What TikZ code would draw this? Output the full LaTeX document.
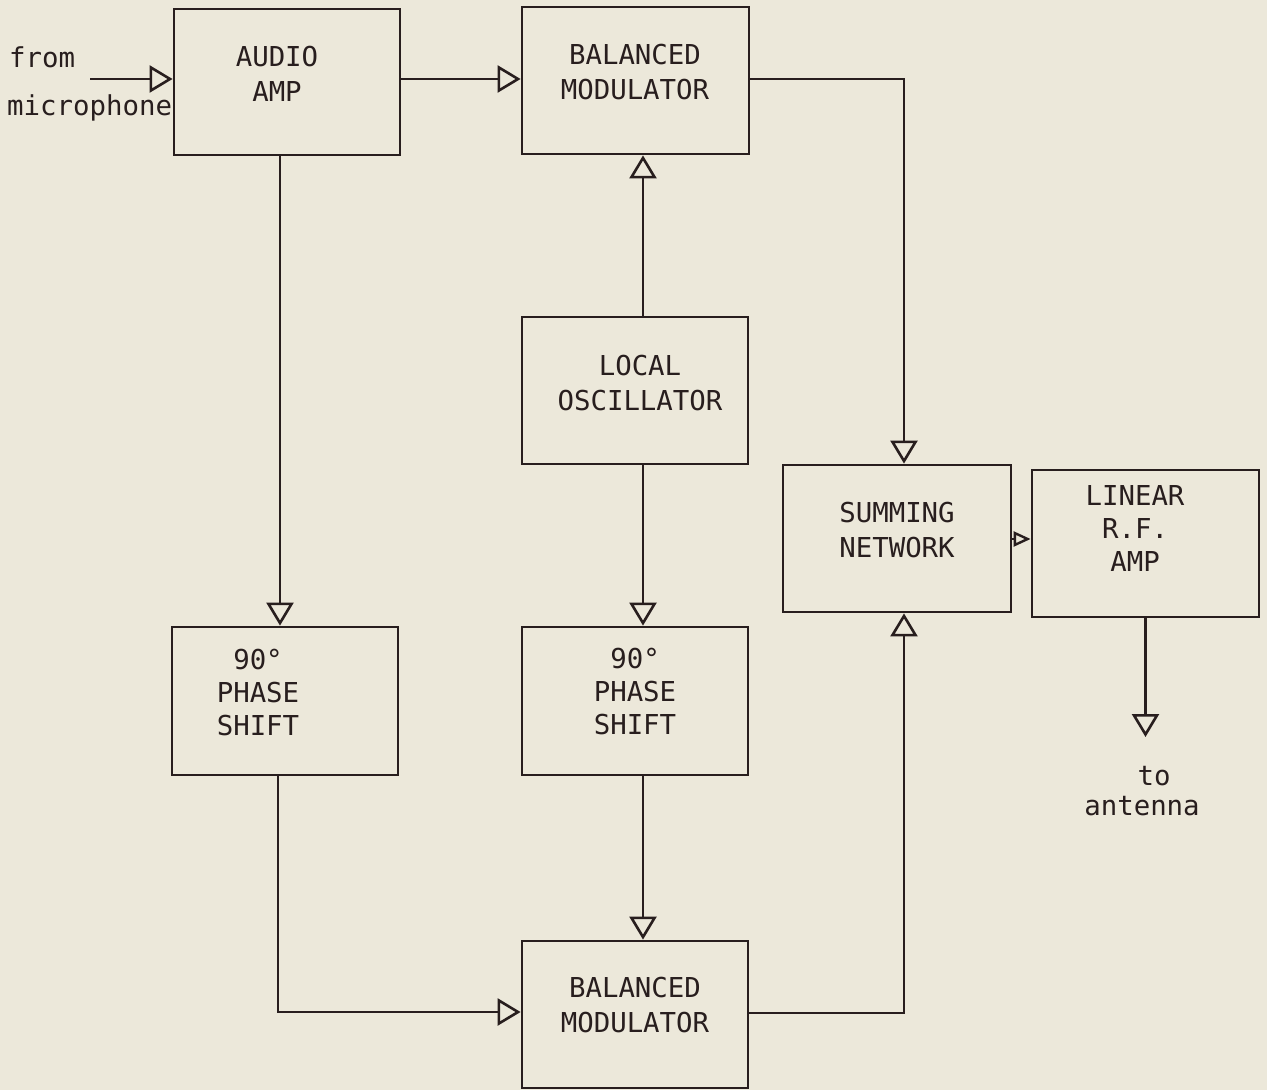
\documentclass[tikz,border=0pt]{standalone}
\usepackage{fontspec}
\setmainfont{DejaVu Sans Mono}
\usetikzlibrary{arrows.meta}
\definecolor{paper}{RGB}{236,232,218}
\definecolor{ink}{RGB}{40,30,30}
\begin{document}
\begin{tikzpicture}[x=1bp,y=-1bp,
  blk/.style={draw=ink, line width=2.8bp, rectangle, inner sep=0pt},
  lbl/.style={text=ink, align=center, inner sep=0pt, font=\fontsize{27.4bp}{35bp}\selectfont},
  lblt/.style={text=ink, align=center, inner sep=0pt, font=\fontsize{27.4bp}{33bp}\selectfont},
  arr/.style={draw=ink, line width=2.8bp, -{Triangle[open, length=23bp, width=27bp, line width=2.6bp]}},
  arrs/.style={draw=ink, line width=2.8bp, -{Triangle[open, length=17bp, width=15bp, line width=2.4bp]}},
  wire/.style={draw=ink, line width=2.8bp}]
\fill[paper] (0,0) rectangle (1267,1090);
% boxes
\node[blk, minimum width=226bp, minimum height=146bp] (aa)  at (287,82) {};
\node[blk, minimum width=227bp, minimum height=147bp] (bm1) at (635.5,80.5) {};
\node[blk, minimum width=226bp, minimum height=147bp] (osc) at (635,390.5) {};
\node[blk, minimum width=226bp, minimum height=148bp] (ps1) at (285,701) {};
\node[blk, minimum width=226bp, minimum height=148bp] (ps2) at (635,701) {};
\node[blk, minimum width=226bp, minimum height=147bp] (bm2) at (635,1014.5) {};
\node[blk, minimum width=228bp, minimum height=147bp] (sum) at (897,538.5) {};
\node[blk, minimum width=227bp, minimum height=147bp] (lin) at (1145.5,543.5) {};
% texts
\node[lbl]  (aat)  at (277,74)   {AUDIO\\AMP};
\node[lbl]  (bm1t) at (635,72)   {BALANCED\\MODULATOR};
\node[lbl]  (osct) at (640,383)  {LOCAL\\OSCILLATOR};
\node[lblt] (ps1t) at (258,693)  {90°\\PHASE\\SHIFT};
\node[lblt] (ps2t) at (635,692)  {90°\\PHASE\\SHIFT};
\node[lbl]  (bm2t) at (635,1005) {BALANCED\\MODULATOR};
\node[lbl]  (sumt) at (897,530)  {SUMMING\\NETWORK};
\node[lblt] (lint) at (1135,529) {LINEAR\\R.F.\\AMP};
\node[lbl, anchor=base west] (from) at (9,67)  {from};
\node[lbl, anchor=base west] (mic)  at (7,115) {microphone};
\node[lbl, anchor=base] (to)  at (1154,785) {to};
\node[lbl, anchor=base] (ant) at (1142,815) {antenna};
% free ends
\coordinate (micin) at (90,79);
\coordinate (antout) at (1146,737);
% connectors
\draw[arr] (micin) -- (micin -| aa.west);
\draw[arr] ([yshift=3bp]aa.east) -- ([yshift=3bp]aa.east -| bm1.west);
\draw[arr] ([yshift=1.5bp]bm1.east) -| ([xshift=7bp]sum.north);
\draw[arr] ([xshift=8bp]osc.north) -- ([xshift=8bp]osc.north |- bm1.south);
\draw[arr] ([xshift=8bp]osc.south) -- ([xshift=8bp]osc.south |- ps2.north);
\draw[arr] ([xshift=8bp]ps2.south) -- ([xshift=8bp]ps2.south |- bm2.north);
\draw[arr] ([xshift=-7bp]aa.south) -- ([xshift=-7bp]aa.south |- ps1.north);
\draw[arr] ([xshift=-7bp]ps1.south) |- ([yshift=2.5bp]bm2.west);
\draw[arr] ([yshift=1.5bp]bm2.east) -| ([xshift=7bp]sum.south);
\draw[arrs] ([yshift=-0.5bp]sum.east) -- ([yshift=-0.5bp]sum.east -| lin.west);
\draw[arr] (lin.south) -- (lin.south |- antout);
\end{tikzpicture}
\end{document}
